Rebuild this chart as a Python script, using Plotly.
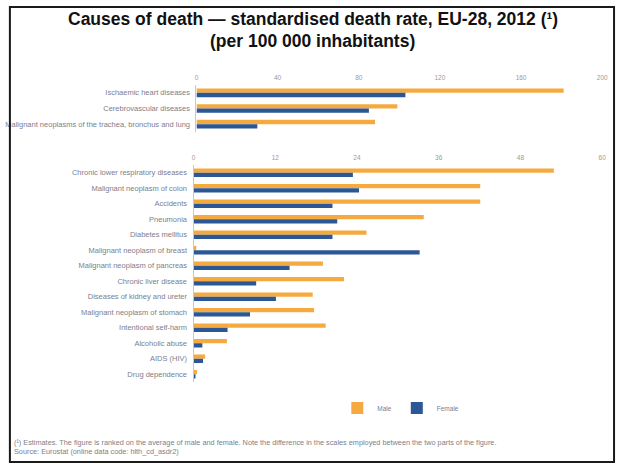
import plotly.graph_objects as go

W, H = 623, 464

# Leading causes (upper panel, scale 0-200)
major_causes = [
    "Ischaemic heart diseases",
    "Cerebrovascular diseases",
    "Malignant neoplasms of the trachea, bronchus and lung",
]
major_male = [181, 99, 88]
major_female = [103, 85, 30]
major_ticks = [0, 40, 80, 120, 160, 200]

# Other causes (lower panel, scale 0-60)
other_causes = [
    "Chronic lower respiratory diseases",
    "Malignant neoplasm of colon",
    "Accidents",
    "Pneumonia",
    "Diabetes mellitus",
    "Malignant neoplasm of breast",
    "Malignant neoplasm of pancreas",
    "Chronic liver disease",
    "Diseases of kidney and ureter",
    "Malignant neoplasm of stomach",
    "Intentional self-harm",
    "Alcoholic abuse",
    "AIDS (HIV)",
    "Drug dependence",
]
other_male = [52.9, 42.1, 42.1, 33.8, 25.4, 0.4, 19.0, 22.1, 17.5, 17.7, 19.4, 4.9, 1.7, 0.5]
other_female = [23.4, 24.3, 20.4, 21.1, 20.4, 33.2, 14.1, 9.2, 12.1, 8.3, 5.0, 1.3, 1.4, 0.2]
other_ticks = [0, 12, 24, 36, 48, 60]

ORANGE = "#F4AA3E"
BLUE = "#2B5797"
LABEL = "#7b808c"
TICK = "#9a9a9a"


def px_x(v):
    return v / W


def px_y(v):
    return 1 - v / H


fig = go.Figure()

fig.add_trace(go.Bar(y=major_causes, x=major_male, orientation="h", name="Male",
                     marker=dict(color=ORANGE, line=dict(width=0)),
                     xaxis="x", yaxis="y", legendgroup="m"))
fig.add_trace(go.Bar(y=major_causes, x=major_female, orientation="h", name="Female",
                     marker=dict(color=BLUE, line=dict(width=0)),
                     xaxis="x", yaxis="y", legendgroup="f"))
fig.add_trace(go.Bar(y=other_causes, x=other_male, orientation="h", name="Male",
                     marker=dict(color=ORANGE, line=dict(width=0)),
                     xaxis="x2", yaxis="y2", legendgroup="m", showlegend=False))
fig.add_trace(go.Bar(y=other_causes, x=other_female, orientation="h", name="Female",
                     marker=dict(color=BLUE, line=dict(width=0)),
                     xaxis="x2", yaxis="y2", legendgroup="f", showlegend=False))

xcommon = dict(side="top", showgrid=False, zeroline=False, showline=False,
               ticks="", tickfont=dict(size=6.5, color=TICK, family="Liberation Sans"),
               ticklabelstandoff=3, fixedrange=True)
ycommon = dict(autorange="reversed", showgrid=False, zeroline=False,
               showline=True, linecolor="#c8c8c8", linewidth=1, ticks="",
               tickfont=dict(size=7.5, color=LABEL, family="Liberation Sans"),
               ticklabelstandoff=4, fixedrange=True)

fig.update_layout(
    width=W, height=H,
    margin=dict(l=0, r=0, t=0, b=0),
    paper_bgcolor="white", plot_bgcolor="white",
    barmode="group", bargap=0.45, bargroupgap=0,
    xaxis=dict(xcommon, domain=[px_x(197), px_x(608)], range=[0, 200],
               tickvals=major_ticks, anchor="y"),
    yaxis=dict(ycommon, domain=[px_y(132), px_y(85)], anchor="x"),
    xaxis2=dict(xcommon, domain=[px_x(194), px_x(608)], range=[0, 60],
                tickvals=other_ticks, anchor="y2"),
    yaxis2=dict(ycommon, domain=[px_y(382), px_y(165)], anchor="x2"),
    legend=dict(orientation="h", x=px_x(404), y=px_y(408), xanchor="center",
                yanchor="middle", font=dict(size=6.5, color=LABEL, family="Liberation Sans"),
                itemwidth=30, bgcolor="rgba(0,0,0,0)", traceorder="normal"),
    showlegend=True,
)

# Outer frame
fig.add_shape(type="rect", xref="paper", yref="paper",
              x0=px_x(8), x1=px_x(620), y0=px_y(462), y1=px_y(7),
              line=dict(color="#1a1a1a", width=2), fillcolor="rgba(0,0,0,0)")

# Title lines
fig.add_annotation(text="<b>Causes of death — standardised death rate, EU-28, 2012 (¹)</b>",
                   xref="paper", yref="paper", x=px_x(315), y=px_y(19),
                   xanchor="center", yanchor="middle", showarrow=False,
                   font=dict(size=17.5, color="#111111", family="Liberation Sans"))
fig.add_annotation(text="<b>(per 100 000 inhabitants)</b>",
                   xref="paper", yref="paper", x=px_x(315), y=px_y(41),
                   xanchor="center", yanchor="middle", showarrow=False,
                   font=dict(size=17.5, color="#111111", family="Liberation Sans"))

# Footnotes
notes = [
    "(¹) Estimates. The figure is ranked on the average of male and female. Note the difference in the scales employed between the two parts of the figure.",
    "Source: Eurostat (online data code: hlth_cd_asdr2)",
]
for i, note in enumerate(notes):
    fig.add_annotation(text=note, xref="paper", yref="paper",
                       x=px_x(10), y=px_y(442 + 9.5 * i), xanchor="left", yanchor="middle",
                       showarrow=False,
                       font=dict(size=7.3, color=LABEL, family="Liberation Sans"))

fig.write_html("out.html")
